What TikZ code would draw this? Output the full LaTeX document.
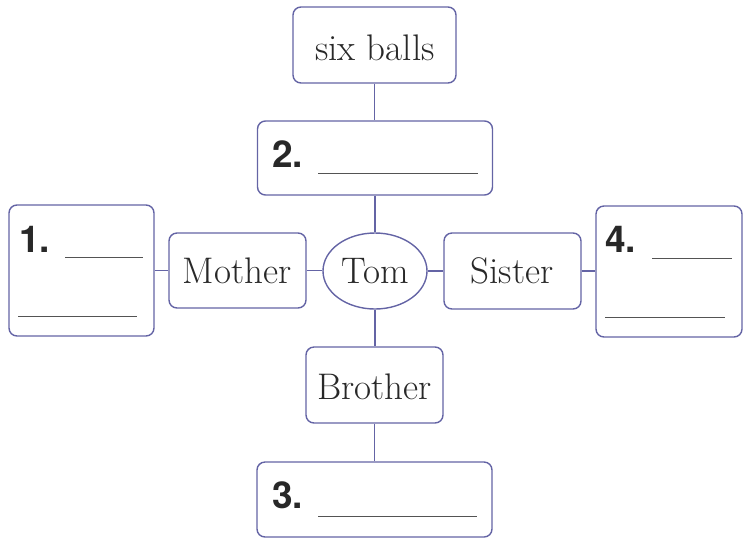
\documentclass[tikz,border=0pt]{standalone}
\usepackage{fontspec}
\newfontfamily\numfont{TeX Gyre Heros}
\usetikzlibrary{shapes.geometric}
\definecolor{linec}{RGB}{100,100,165}
\definecolor{textc}{RGB}{40,40,40}
\tikzset{
  box/.style={draw=linec, line width=1.4pt, rounded corners=8pt, inner sep=0pt},
  word/.style={anchor=base, inner sep=0pt, text=textc, font=\fontsize{37}{44}\selectfont},
  num/.style={anchor=base west, inner sep=0pt, text=textc, font=\numfont\bfseries\fontsize{37}{44}\selectfont},
  blank/.style={draw=textc!80, line width=1pt},
  conn/.style={draw=linec, line width=1.4pt}
}
\begin{document}
\begin{tikzpicture}[x=1pt,y=-1pt]
\useasboundingbox (0,0) rectangle (743,550);
% boxes
\node[box, minimum width=163pt, minimum height=76pt] (sixb) at (374.5,45) {};
\node[box, minimum width=235pt, minimum height=74pt] (b2) at (375,158) {};
\node[box, minimum width=145pt, minimum height=131pt] (b1) at (81.5,270.5) {};
\node[box, minimum width=137pt, minimum height=75pt] (mother) at (237.5,270.5) {};
\node[draw=linec, line width=1.4pt, ellipse, minimum width=104pt, minimum height=76pt, inner sep=0pt] (tom) at (375,271) {};
\node[box, minimum width=137pt, minimum height=76pt] (sister) at (512.5,271) {};
\node[box, minimum width=146pt, minimum height=131pt] (b4) at (669,271.5) {};
\node[box, minimum width=137pt, minimum height=76pt] (brother) at (374.5,385) {};
\node[box, minimum width=235pt, minimum height=75pt] (b3) at (374.5,499.5) {};
% texts
\node[word] (tsix) at (375,60) {six balls};
\node[word] (tmother) at (237,283) {Mother};
\node[word] (ttom) at (375,283) {Tom};
\node[word] (tsister) at (512,283) {Sister};
\node[word] (tbrother) at (374.5,399) {Brother};
\node[num] (n1) at (19,252) {1.};
\node[num] (n2) at (272,167) {2.};
\node[num] (n3) at (272,508) {3.};
\node[num] (n4) at (605,252) {4.};
% blanks
\draw[blank] (65,257) -- (143,257);
\draw[blank] (18,316) -- (137,316);
\draw[blank] (318,173) -- (478,173);
\draw[blank] (318,516) -- (477,516);
\draw[blank] (652,258) -- (732,258);
\draw[blank] (605,317) -- (725,317);
% connectors
\draw[conn] (sixb.south) -- (sixb.south |- b2.north);
\draw[conn] (b2.south -| tom.north) -- (tom.north);
\draw[conn] (tom.south) -- (tom.south |- brother.north);
\draw[conn] (brother.south) -- (brother.south |- b3.north);
\draw[conn] (mother.east) -- (mother.east -| tom.west);
\draw[conn] (tom.east) -- (tom.east -| sister.west);
\draw[conn] (b1.east) -- (b1.east -| mother.west);
\draw[conn] (sister.east) -- (sister.east -| b4.west);
\end{tikzpicture}
\end{document}
